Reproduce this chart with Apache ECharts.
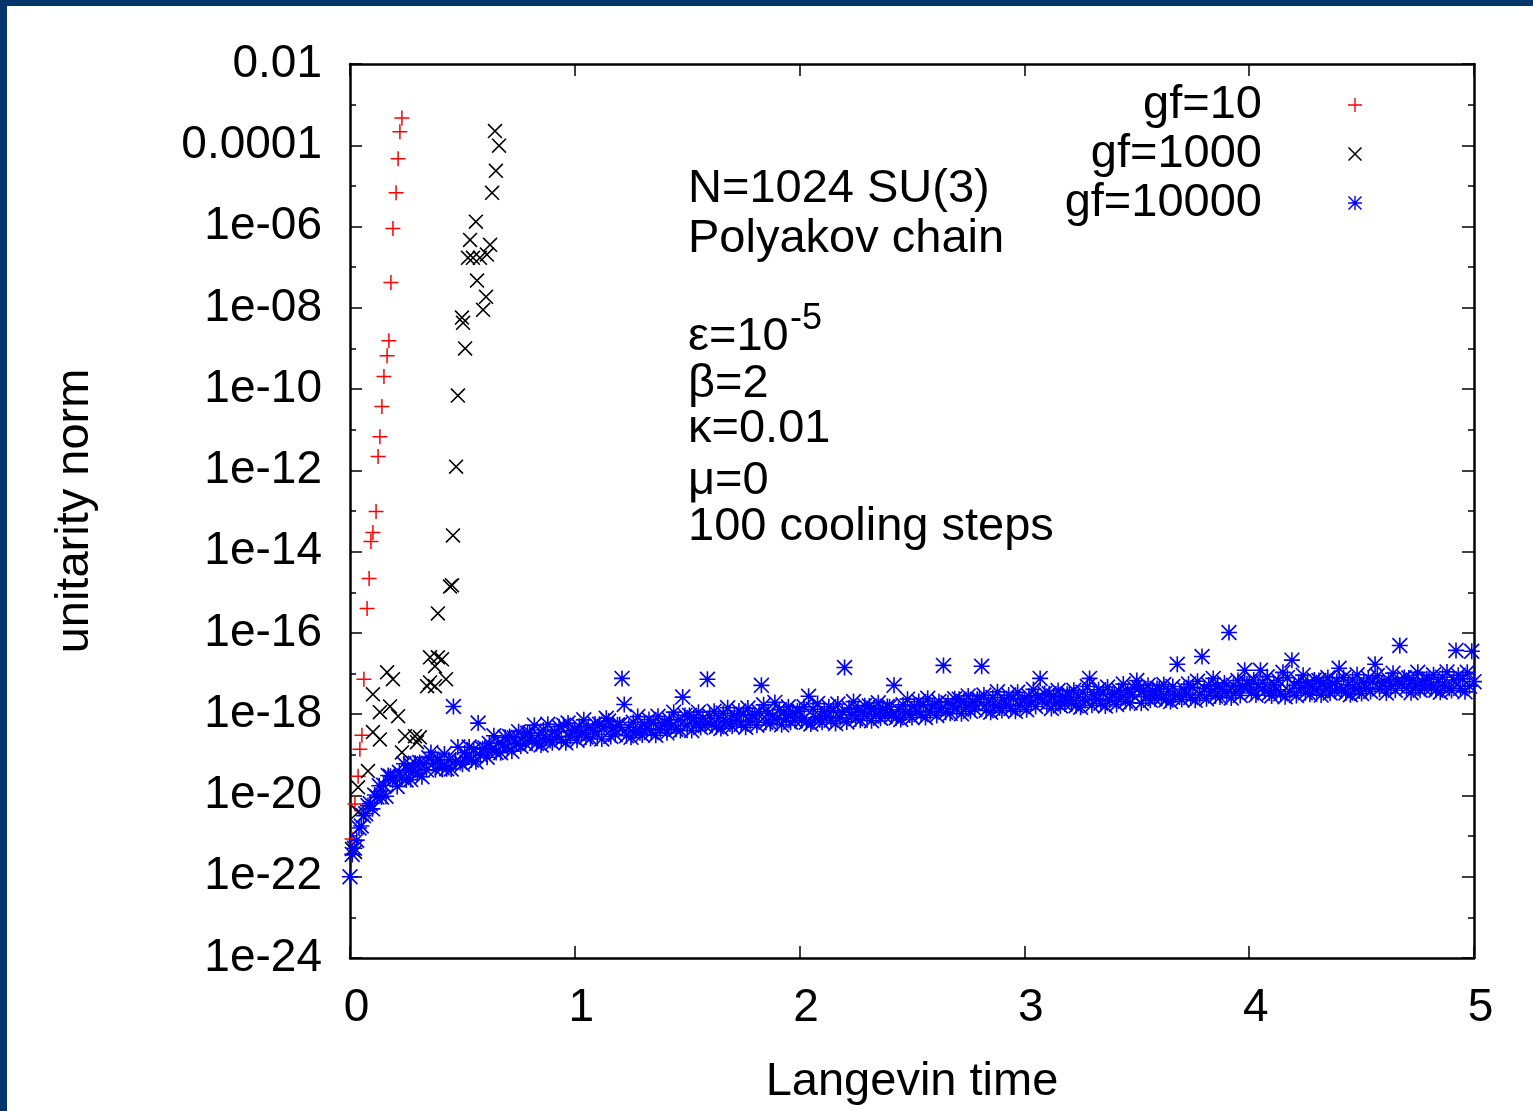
<!DOCTYPE html>
<html>
<head>
<meta charset="utf-8">
<script src="https://cdn.jsdelivr.net/npm/echarts@6/dist/echarts.min.js"></script>
<style>
  html, body { margin: 0; padding: 0; background: #ffffff; }
  #chart { width: 1533px; height: 1111px; }
</style>
</head>
<body>
<div id="chart"></div>
<script>
// ---------- data (values are log10 of the unitarity norm) ----------
const seriesNames = ['gf=10', 'gf=1000', 'gf=10000'];

// gf=10 (red +)
const redTime = [0.009, 0.022, 0.036, 0.044, 0.053, 0.062, 0.076, 0.085, 0.093, 0.102, 0.116, 0.125,
  0.133, 0.142, 0.151, 0.165, 0.173, 0.182, 0.191, 0.205, 0.214, 0.222, 0.231];
const redLog10 = [-21.07, -20.21, -19.53, -18.86, -18.52, -17.14, -15.40, -14.66, -13.75, -13.53, -13.01, -11.66,
  -11.17, -10.43, -9.69, -9.18, -8.81, -7.38, -6.05, -5.17, -4.33, -3.67, -3.33];

// gf=1000 (black x)
const blackTime = [0.009, 0.022, 0.036, 0.036, 0.080, 0.102, 0.102, 0.133, 0.133, 0.165, 0.178, 0.191,
  0.214, 0.231, 0.245, 0.267, 0.289, 0.298, 0.311, 0.343, 0.356, 0.356, 0.378, 0.378, 0.391,
  0.391, 0.409, 0.427, 0.445, 0.454, 0.458, 0.472, 0.480, 0.498, 0.503, 0.512, 0.525, 0.534,
  0.547, 0.560, 0.565, 0.578, 0.592, 0.605, 0.609, 0.623, 0.632, 0.645, 0.649, 0.663];
const blackLog10 = [-21.32, -21.39, -20.41, -19.80, -19.40, -17.51, -18.44, -17.95, -18.62, -16.97, -17.81, -17.14,
  -18.05, -18.94, -18.54, -19.23, -18.54, -18.69, -18.57, -17.31, -16.60, -17.22, -16.82, -17.31, -16.60,
  -15.52, -16.65, -17.14, -14.86, -14.83, -13.60, -11.91, -10.16, -8.24, -8.37, -9.00, -6.77, -6.33,
  -6.77, -5.88, -7.33, -6.77, -8.05, -7.73, -6.69, -6.45, -5.17, -3.65, -4.63, -4.01];

// gf=10000 (blue *), sampled every 0.01 in Langevin time from 0 to 5
const blueStep = 0.01;
const blueLog10 = [
  -22.00, -21.45, -21.30, -21.10, -20.80, -20.75, -20.50, -20.45, -20.25, -20.20,
  -20.33, -19.99, -20.04, -19.76, -20.04, -19.75, -20.02, -19.51, -19.53, -19.62,
  -19.56, -19.78, -19.43, -19.56, -19.22, -19.62, -19.38, -19.61, -19.40, -19.21,
  -19.45, -19.19, -19.54, -19.22, -19.37, -19.07, -18.94, -19.21, -19.37, -19.12,
  -19.12, -19.32, -18.98, -19.34, -19.12, -19.35, -17.81, -19.16, -18.81, -19.19,
  -19.23, -18.95, -19.06, -18.81, -19.13, -18.87, -19.17, -18.22, -19.01, -18.85,
  -18.83, -19.06, -18.72, -18.86, -18.53, -18.94, -18.71, -18.95, -18.75, -18.57,
  -18.82, -18.55, -18.91, -18.58, -18.72, -18.43, -18.79, -18.56, -18.72, -18.47,
  -18.46, -18.67, -18.27, -18.72, -18.52, -18.76, -18.39, -18.60, -18.25, -18.65,
  -18.70, -18.43, -18.55, -18.31, -18.63, -18.27, -18.70, -18.22, -18.55, -18.41,
  -18.39, -18.64, -18.30, -18.46, -18.14, -18.56, -18.34, -18.60, -18.40, -18.24,
  -18.50, -18.25, -18.61, -18.30, -18.10, -18.17, -18.55, -18.33, -18.50, -18.26,
  -18.26, -17.12, -17.76, -18.53, -18.32, -18.57, -18.20, -18.41, -18.06, -18.46,
  -18.51, -18.25, -18.36, -18.13, -18.45, -18.21, -18.52, -18.05, -18.38, -18.24,
  -18.22, -18.46, -18.13, -18.28, -17.95, -18.37, -18.14, -18.40, -17.58, -18.03,
  -18.29, -18.03, -18.40, -18.08, -18.24, -17.95, -18.33, -18.10, -18.28, -17.14,
  -18.04, -18.26, -17.93, -18.31, -18.10, -18.35, -17.98, -18.19, -17.84, -18.24,
  -18.30, -18.04, -18.15, -17.92, -18.25, -18.00, -18.32, -17.85, -18.18, -18.04,
  -18.03, -18.27, -17.94, -17.29, -17.77, -18.20, -17.98, -18.23, -18.04, -17.71,
  -18.14, -17.89, -18.26, -17.94, -18.10, -17.82, -18.20, -17.98, -18.16, -17.92,
  -17.93, -18.15, -17.82, -18.20, -17.56, -18.24, -17.88, -18.09, -17.74, -18.14,
  -18.20, -17.94, -18.05, -17.82, -18.15, -17.91, -18.23, -17.75, -18.09, -17.95,
  -16.85, -18.19, -17.85, -18.01, -17.69, -18.11, -17.89, -18.15, -17.95, -17.79,
  -18.05, -17.80, -18.16, -17.85, -18.01, -17.72, -18.10, -17.88, -18.05, -17.81,
  -17.82, -18.04, -17.29, -18.09, -17.89, -18.13, -17.77, -17.97, -17.63, -18.02,
  -18.08, -17.81, -17.93, -17.69, -18.01, -17.77, -18.08, -17.61, -17.94, -17.80,
  -17.78, -18.03, -17.69, -17.85, -16.80, -17.95, -17.72, -17.98, -17.78, -17.62,
  -17.88, -17.63, -17.99, -17.68, -17.83, -17.55, -17.93, -17.70, -17.88, -17.63,
  -17.64, -16.82, -17.53, -17.91, -17.71, -17.95, -17.59, -17.80, -17.45, -17.85,
  -17.91, -17.65, -17.76, -17.53, -17.86, -17.61, -17.93, -17.46, -17.79, -17.65,
  -17.64, -17.89, -17.55, -17.71, -17.39, -17.81, -17.59, -17.12, -17.65, -17.49,
  -17.75, -17.50, -17.86, -17.55, -17.71, -17.42, -17.80, -17.58, -17.75, -17.51,
  -17.52, -17.74, -17.41, -17.79, -17.58, -17.83, -17.46, -17.67, -17.32, -17.12,
  -17.78, -17.52, -17.63, -17.40, -17.73, -17.48, -17.80, -17.33, -17.66, -17.52,
  -17.51, -17.76, -17.42, -17.58, -17.26, -17.68, -17.46, -17.72, -17.52, -17.36,
  -17.17, -17.37, -17.73, -17.42, -17.57, -17.29, -17.66, -17.44, -17.62, -17.37,
  -17.38, -17.60, -17.27, -17.65, -17.44, -17.69, -17.32, -17.53, -16.77, -17.58,
  -17.64, -17.38, -17.49, -17.26, -17.59, -17.34, -17.66, -17.19, -17.52, -16.58,
  -17.37, -17.62, -17.28, -17.44, -17.12, -17.55, -17.32, -17.58, -17.39, -17.23,
  -17.49, -15.99, -17.60, -17.29, -17.45, -17.17, -17.54, -17.32, -16.92, -17.25,
  -17.26, -17.48, -17.16, -17.53, -17.33, -16.92, -17.22, -17.43, -17.08, -17.48,
  -17.55, -17.28, -17.40, -17.17, -17.50, -16.97, -17.57, -17.10, -17.44, -16.67,
  -17.29, -17.54, -17.21, -17.36, -17.04, -17.47, -17.25, -17.51, -17.32, -17.16,
  -17.42, -17.17, -17.53, -17.22, -17.38, -17.10, -17.48, -17.25, -17.43, -17.19,
  -16.87, -17.42, -17.10, -17.48, -17.28, -17.52, -17.16, -17.37, -17.03, -17.43,
  -17.49, -17.23, -17.35, -17.11, -17.44, -17.20, -16.77, -17.05, -17.38, -17.24,
  -17.23, -17.48, -17.15, -17.31, -16.99, -17.41, -17.19, -16.31, -17.26, -17.10,
  -17.36, -17.11, -17.47, -17.16, -17.32, -16.97, -17.41, -17.19, -17.37, -17.13,
  -17.14, -17.36, -17.03, -17.41, -17.21, -17.46, -17.09, -17.30, -16.96, -17.36,
  -17.42, -17.16, -16.43, -17.04, -17.37, -17.13, -17.45, -16.97, -17.31, -16.45,
  -17.20
];

// axis tick labels
const xTickLabels = ['0', '1', '2', '3', '4', '5'];
const yTickExps = [-24, -22, -20, -18, -16, -14, -12, -10, -8, -6, -4, -2];
const yTickLabels = ['1e-24', '1e-22', '1e-20', '1e-18', '1e-16', '1e-14', '1e-12', '1e-10', '1e-08', '1e-06', '0.0001', '0.01'];

// annotation lines
const infoLines = ['N=1024 SU(3)', 'Polyakov chain', 'ε=10', 'β=2', 'κ=0.01', 'μ=0', '100 cooling steps'];
const infoSup = '-5';

// ---------- chart ----------
const FONT = "'Liberation Sans', Arial, Helvetica, sans-serif";
const PLUS = 'path://M-1,-10L1,-10L1,10L-1,10ZM-10,-1L10,-1L10,1L-10,1Z';
const CROSS = 'path://M-8.5,-10L10,8.5L8.5,10L-10,-8.5ZM10,-8.5L-8.5,10L-10,8.5L8.5,-10Z';
const STAR = 'path://M-1,-10L1,-10L1,10L-1,10ZM-10,-1L10,-1L10,1L-10,1ZM-8.5,-10L10,8.5L8.5,10L-10,-8.5ZM10,-8.5L-8.5,10L-10,8.5L8.5,-10Z';

const redData = redTime.map((t, i) => [t, redLog10[i]]);
const blackData = blackTime.map((t, i) => [t, blackLog10[i]]);
const blueData = blueLog10.map((v, i) => [+(i * blueStep).toFixed(2), v]);

const black = '#000000';
const axisLine = { show: true, onZero: false, lineStyle: { color: black, width: 2.5 } };

function yFmt(v) {
  const k = yTickExps.indexOf(Math.round(v));
  return k >= 0 ? yTickLabels[k] : '';
}
function xFmt(v) {
  const k = Math.round(v);
  return xTickLabels[k] !== undefined ? xTickLabels[k] : '';
}

const chart = echarts.init(document.getElementById('chart'), null, { renderer: 'canvas' });

const yCommon = {
  type: 'value', min: -24, max: -2, interval: 2,
  axisLine: axisLine,
  axisTick: { show: true, inside: true, length: 12, lineStyle: { color: black, width: 1.5 } },
  minorTick: { show: true, splitNumber: 2, length: 6, lineStyle: { color: black, width: 1.5 } },
  splitLine: { show: false }
};
const xCommon = {
  type: 'value', min: 0, max: 5, interval: 1,
  axisLine: axisLine,
  axisTick: { show: true, inside: true, length: 12, lineStyle: { color: black, width: 1.5 } },
  splitLine: { show: false }
};

const graphics = [
  { type: 'rect', shape: { x: 0, y: 0, width: 1533, height: 6 }, style: { fill: '#03356a' }, z: 100 },
  { type: 'rect', shape: { x: 0, y: 0, width: 7, height: 1111 }, style: { fill: '#03356a' }, z: 100 }
];
const infoY = [189, 239, 337, 384, 429, 481, 527];
infoLines.forEach((s, i) => {
  graphics.push({
    type: 'text', x: 688, y: infoY[i], z: 50,
    style: { text: s, fontSize: 47, fontFamily: FONT, fill: black, verticalAlign: 'middle', align: 'left' }
  });
});
graphics.push({
  type: 'text', x: 790, y: 319, z: 50,
  style: { text: infoSup, fontSize: 36, fontFamily: FONT, fill: black, verticalAlign: 'middle', align: 'left' }
});

chart.setOption({
  backgroundColor: '#ffffff',
  animation: false,
  grid: { left: 350, right: 59, top: 64, bottom: 152, containLabel: false },
  legend: {
    orient: 'vertical', right: 166, top: 76, align: 'right',
    itemWidth: 14, itemHeight: 14, itemGap: 1,
    data: seriesNames,
    textStyle: { fontSize: 47, fontFamily: FONT, color: black, lineHeight: 48, padding: [0, 81, 0, 0] }
  },
  xAxis: [
    Object.assign({}, xCommon, {
      position: 'bottom',
      axisLabel: { show: true, fontSize: 46, fontFamily: FONT, color: black, margin: 27, padding: [0, 0, 0, 13], formatter: xFmt },
      name: 'Langevin time', nameLocation: 'middle', nameGap: 101,
      nameTextStyle: { fontSize: 47, fontFamily: FONT, color: black }
    }),
    Object.assign({}, xCommon, { position: 'top', axisLabel: { show: false } })
  ],
  yAxis: [
    Object.assign({}, yCommon, {
      position: 'left',
      axisLabel: { show: true, fontSize: 46, fontFamily: FONT, color: black, margin: 28, padding: [8, 0, 0, 0], formatter: yFmt },
      name: 'unitarity norm', nameLocation: 'middle', nameGap: 251,
      nameTextStyle: { fontSize: 47, fontFamily: FONT, color: black }
    }),
    Object.assign({}, yCommon, { position: 'right', axisLabel: { show: false } })
  ],
  graphic: graphics,
  series: [
    {
      name: seriesNames[0], type: 'scatter', xAxisIndex: 0, yAxisIndex: 0,
      symbol: PLUS, symbolSize: 15, data: redData,
      itemStyle: { color: '#ff0000', opacity: 1 }
    },
    {
      name: seriesNames[1], type: 'scatter', xAxisIndex: 0, yAxisIndex: 0,
      symbol: CROSS, symbolSize: 15, data: blackData,
      itemStyle: { color: '#000000', opacity: 1 }
    },
    {
      name: seriesNames[2], type: 'scatter', xAxisIndex: 0, yAxisIndex: 0,
      symbol: STAR, symbolSize: 16, data: blueData,
      itemStyle: { color: '#0000ff', opacity: 1 }
    }
  ]
});
</script>
</body>
</html>
